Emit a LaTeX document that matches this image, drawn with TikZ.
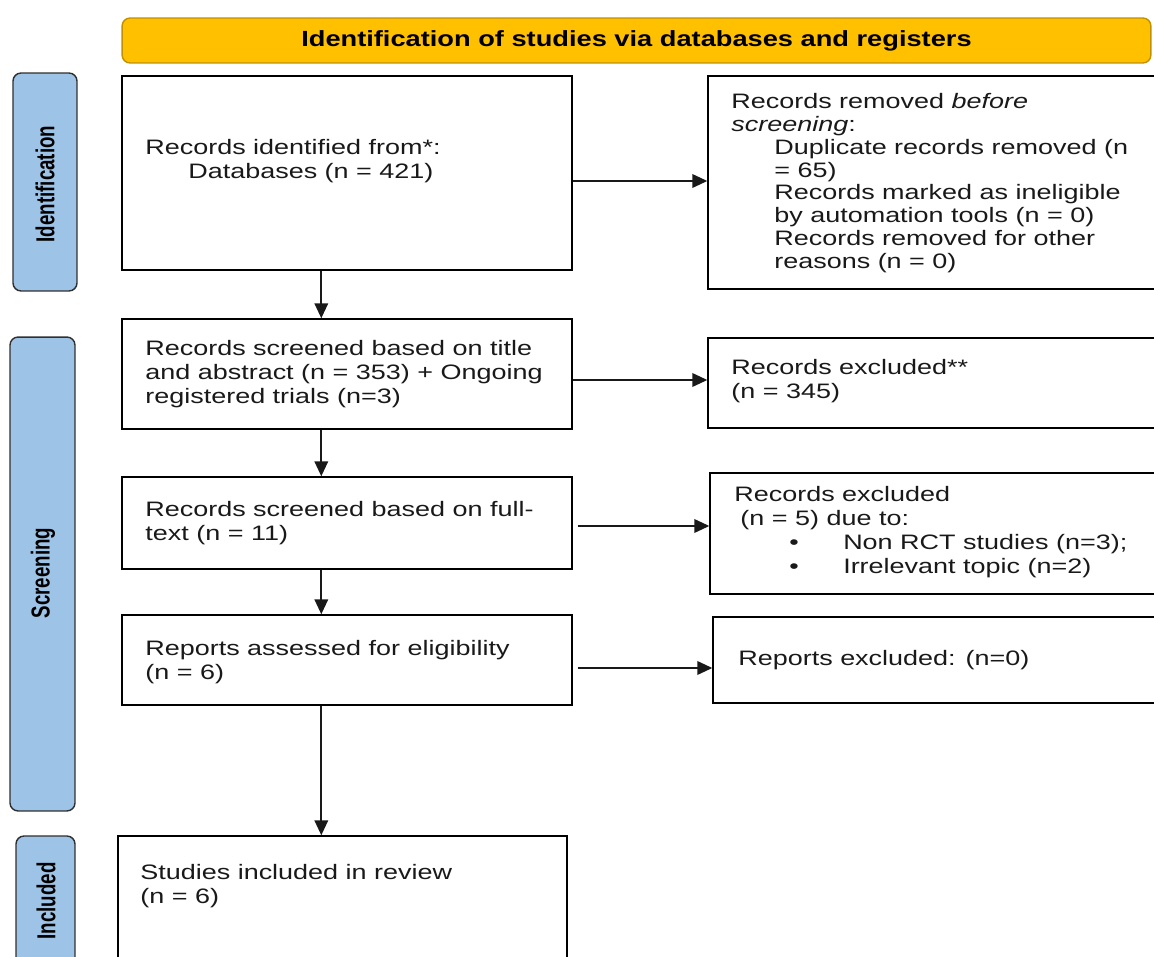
\documentclass[tikz,border=0pt]{standalone}
\usepackage{fontspec}
\setmainfont{Liberation Sans}[FakeStretch=1.29]
\newfontfamily\sidefont{Liberation Sans}[FakeStretch=0.72]
\newfontfamily\titlefont{Liberation Sans}[FakeStretch=1.24]
\usepackage{xcolor}
\usepackage{tikz}
\usetikzlibrary{arrows.meta}
\usetikzlibrary{positioning}

\definecolor{titlefill}{HTML}{FFC000}
\definecolor{titledraw}{HTML}{C09000}
\definecolor{phasefill}{HTML}{9DC3E6}
\definecolor{phasedraw}{HTML}{303030}

\begin{document}
\begin{tikzpicture}
    [x=0.02cm, y=-0.02cm,
      % style for the boxes
      box/.style={rectangle, draw=black, line width=0.8pt, inner sep=0pt},
      % style for the texts in the boxes
      txt/.style={anchor=north west, align=left, inner sep=0pt, text=black!90, font=\fontsize{11.9}{13.6}\selectfont},
      % style for the phases on the left
      phase/.style={rectangle, rounded corners=0.16cm, fill=phasefill, draw=phasedraw, line width=0.8pt},
      phasetxt/.style={rotate=90, inner sep=0pt, font=\sidefont\bfseries\fontsize{14.8}{16}\selectfont},
      arr/.style={-{Triangle[length=0.3cm, width=0.27cm]}, line width=1.1pt, draw=black!90}]
    \clip (0,0) rectangle (1154,957);

    % title
    \node[rectangle, rounded corners=0.16cm, fill=titlefill, draw=titledraw, line width=0.8pt,
          minimum width=20.58cm, minimum height=0.9cm, font=\titlefont\bfseries\fontsize{12.5}{14}\selectfont]
          (title) at (636.5,40.5) {Identification of studies via databases and registers};

    % phases
    \node[phase, minimum width=1.28cm, minimum height=4.36cm] (idph) at (45,182) {};
    \node[phase, minimum width=1.3cm, minimum height=9.48cm] (scrph) at (42.5,574) {};
    \node[phase, minimum width=1.18cm, minimum height=3.28cm] (incph) at (45.5,918) {};
    \node[phasetxt] (idlbl) at (45,184) {Identification};
    \node[phasetxt] (scrlbl) at (43,573) {Screening};
    \node[phasetxt] (inclbl) at (46,901) {Included};

    % boxes
    \node[box, minimum width=9cm, minimum height=3.88cm] (ident) at (347,173) {};
    \node[box, minimum width=9.34cm, minimum height=4.26cm] (removed) at (941.5,182.5) {};
    \node[box, minimum width=9cm, minimum height=2.2cm] (screen) at (347,374) {};
    \node[box, minimum width=9.34cm, minimum height=1.8cm] (excl) at (941.5,383) {};
    \node[box, minimum width=9cm, minimum height=1.84cm] (fulltext) at (347,523) {};
    \node[box, minimum width=9.3cm, minimum height=2.42cm] (exclft) at (942.5,533.5) {};
    \node[box, minimum width=9cm, minimum height=1.8cm] (elig) at (347,660) {};
    \node[box, minimum width=9.24cm, minimum height=1.72cm] (repexcl) at (944,660) {};
    \node[box, minimum width=8.98cm, minimum height=3.28cm] (incl) at (342.5,918) {};

    % texts
    \node[txt] (identtxt) at (145,139) {Records identified from*:\\\hspace*{0.86cm}Databases (n = 421)};
    \node[txt, font=\fontsize{11.9}{13}\selectfont] (removedtxt) at (731,93) {Records removed \textit{before}\\
      \textit{screening}:\\
      \hspace*{0.86cm}Duplicate records removed (n\\
      \hspace*{0.86cm}= 65)\\
      \hspace*{0.86cm}Records marked as ineligible\\
      \hspace*{0.86cm}by automation tools (n = 0)\\
      \hspace*{0.86cm}Records removed for other\\
      \hspace*{0.86cm}reasons (n = 0)};
    \node[txt] (screentxt) at (145,340) {Records screened based on title\\and abstract (n = 353) + Ongoing\\registered trials (n=3)};
    \node[txt] (excltxt) at (731,359) {Records excluded**\\(n = 345)};
    \node[txt] (fulltexttxt) at (145,501) {Records screened based on full-\\text (n = 11)};
    \node[txt] (exclfttxt) at (734,486) {Records excluded\\
      \hspace*{0.12cm}(n = 5) due to:\\
      \hspace*{1.1cm}\textbullet\hspace*{0.89cm}Non RCT studies (n=3);\\
      \hspace*{1.1cm}\textbullet\hspace*{0.89cm}Irrelevant topic (n=2)};
    \node[txt] (eligtxt) at (145,640) {Reports assessed for eligibility\\(n = 6)};
    \node[txt] (repexcltxt) at (738,650) {Reports excluded: (n=0)};
    \node[txt] (incltxt) at (140,864) {Studies included in review\\(n = 6)};

    % arrows to the right
    \draw[arr] ([yshift=-0.16cm]ident.east) -- ([yshift=-0.16cm]ident.east -| removed.west);
    \draw[arr] ([yshift=-0.12cm]screen.east) -- ([yshift=-0.12cm]screen.east -| excl.west);
    \draw[arr] ([xshift=0.1cm, yshift=-0.06cm]fulltext.east) -- ([yshift=-0.06cm]fulltext.east -| exclft.west);
    \draw[arr] ([xshift=0.1cm, yshift=-0.16cm]elig.east) -- ([yshift=-0.16cm]elig.east -| repexcl.west);

    % arrows downwards
    \draw[arr] ([xshift=4cm]ident.south west) -- ([xshift=4cm]ident.south west |- screen.north);
    \draw[arr] ([xshift=4cm]screen.south west) -- ([xshift=4cm]screen.south west |- fulltext.north);
    \draw[arr] ([xshift=4cm]fulltext.south west) -- ([xshift=4cm]fulltext.south west |- elig.north);
    \draw[arr] ([xshift=4cm]elig.south west) -- ([xshift=4cm]elig.south west |- incl.north);
  \end{tikzpicture}
\end{document}
